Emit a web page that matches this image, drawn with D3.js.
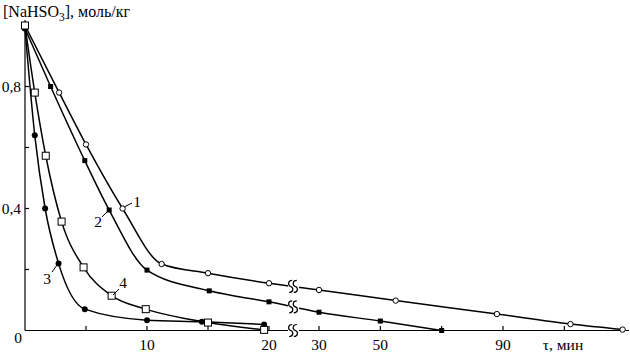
<!DOCTYPE html>
<html>
<head>
<meta charset="utf-8">
<script src="https://d3js.org/d3.v7.min.js"></script>
<style>
  body { margin: 0; background: #fff; }
  svg text { font-family: "Liberation Serif", "Times New Roman", serif; fill: #000; }
</style>
</head>
<body>
<div class="chart"></div>
<script>
// kinetics of NaHSO3 consumption, 4 runs, broken time axis

var t1 = [0, 2.8, 5, 8, 11.2, 15, 20, 30, 55, 88, 112, 129];
var c1 = [1.0, 0.78, 0.61, 0.40, 0.218, 0.188, 0.155, 0.133, 0.098, 0.054, 0.021, 0.003];

var t2 = [0, 2.1, 4.9, 6.9, 10, 15.1, 20, 30, 50, 70];
var c2 = [0.99, 0.80, 0.557, 0.395, 0.198, 0.13, 0.094, 0.06, 0.031, 0.0];

var t3 = [0, 0.8, 1.65, 2.75, 4.9, 10, 14.5, 19.6];
var c3 = [0.99, 0.64, 0.40, 0.22, 0.07, 0.034, 0.029, 0.02];

var t4 = [0, 0.8, 1.7, 3, 4.8, 7.1, 9.9, 15, 19.6];
var c4 = [1.0, 0.78, 0.573, 0.357, 0.207, 0.114, 0.07, 0.026, 0.002];

var leftTicks = [5, 10, 15, 20];
var leftLabels = [10, 20];
var rightTicks = [30, 50, 70, 90, 110];
var rightLabels = [30, 50, 90];
var yTicks = [0.2, 0.4, 0.6, 0.8];
var yLabels = [0.4, 0.8];

var opts = {
  width: 630,
  height: 354,
  breakX: 293
};

var svg = d3.select('.chart').append('svg')
            .attr('width', opts.width)
            .attr('height', opts.height);

var xL = d3.scaleLinear().domain([0, 20]).range([25, 269]);
var xR = d3.scaleLinear().domain([30, 90]).range([319, 503]);
var y = d3.scaleLinear().domain([0, 1]).range([330.5, 25.5]);

var xPos = function(t) {
  return t <= 22 ? xL(t) : xR(t);
};

var fmt = function(v) { return String(v).replace('.', ','); };

// axes
var axis = svg.append('g').attr('stroke', '#000').attr('stroke-width', 1.2);
axis.append('line').attr('x1', 25).attr('x2', 25).attr('y1', 20).attr('y2', 330.5);
axis.append('line').attr('x1', 25).attr('x2', 629).attr('y1', 330.5).attr('y2', 330.5);

axis.selectAll('line.yt').data(yTicks).enter().append('line')
  .attr('class', 'yt')
  .attr('x1', 25).attr('x2', 29)
  .attr('y1', function(d) { return y(d); })
  .attr('y2', function(d) { return y(d); });

axis.selectAll('line.xl').data(leftTicks).enter().append('line')
  .attr('class', 'xl')
  .attr('x1', function(d) { return xL(d); })
  .attr('x2', function(d) { return xL(d); })
  .attr('y1', 330.5).attr('y2', 326);

axis.selectAll('line.xr').data(rightTicks).enter().append('line')
  .attr('class', 'xr')
  .attr('x1', function(d) { return xR(d); })
  .attr('x2', function(d) { return xR(d); })
  .attr('y1', 330.5).attr('y2', 326);

svg.selectAll('text.yl').data(yLabels).enter().append('text')
  .attr('class', 'yl')
  .attr('x', 21).attr('y', function(d) { return y(d) + 5; })
  .attr('text-anchor', 'end')
  .attr('font-size', 15.5)
  .text(fmt);

svg.append('text').attr('x', 18).attr('y', 343)
  .attr('text-anchor', 'middle').attr('font-size', 15.5).text('0');

svg.selectAll('text.xll').data(leftLabels).enter().append('text')
  .attr('class', 'xll')
  .attr('x', function(d) { return xL(d); }).attr('y', 350)
  .attr('text-anchor', 'middle').attr('font-size', 15.5)
  .text(String);

svg.selectAll('text.xrl').data(rightLabels).enter().append('text')
  .attr('class', 'xrl')
  .attr('x', function(d) { return xR(d); }).attr('y', 350)
  .attr('text-anchor', 'middle').attr('font-size', 15.5)
  .text(String);

svg.append('text').attr('x', 563).attr('y', 350)
  .attr('text-anchor', 'middle').attr('font-size', 15.5).text('τ, мин');

var title = svg.append('text').attr('x', 3).attr('y', 17).attr('font-size', 16);
title.append('tspan').text('[NaHSO');
title.append('tspan').attr('font-size', 11.5).attr('dy', 4).text('3');
title.append('tspan').attr('dy', -4).text('], моль/кг');

// curves
var series = [
  { t: t1, c: c1, mark: 'ocircle' },
  { t: t2, c: c2, mark: 'fsquare' },
  { t: t3, c: c3, mark: 'fcircle' },
  { t: t4, c: c4, mark: 'osquare' }
];

var line = d3.line()
  .x(function(d) { return d[0]; })
  .y(function(d) { return d[1]; })
  .curve(d3.curveMonotoneX);

series.forEach(function(s) {
  s.pts = s.t.map(function(t, i) { return [xPos(t), y(s.c[i])]; });
  svg.append('path')
    .attr('d', line(s.pts))
    .attr('fill', 'none')
    .attr('stroke', '#000')
    .attr('stroke-width', 1.5);
});

// break gap
svg.append('rect')
  .attr('x', opts.breakX - 5).attr('y', 270)
  .attr('width', 11).attr('height', 63)
  .attr('fill', '#fff');

var squiggle = function(cx, cy) {
  [-2.3, 2.3].forEach(function(dx) {
    var x = cx + dx;
    svg.append('path')
      .attr('d', 'M' + (x + 1.5) + ',' + (cy - 6) +
                 ' C' + (x - 3) + ',' + (cy - 6) + ' ' + (x - 3) + ',' + (cy - 1) + ' ' + x + ',' + cy +
                 ' C' + (x + 3) + ',' + (cy + 1) + ' ' + (x + 3) + ',' + (cy + 6) + ' ' + (x - 1.5) + ',' + (cy + 6))
      .attr('fill', 'none')
      .attr('stroke', '#000')
      .attr('stroke-width', 1.2);
  });
};

var breakY = function(s) {
  var a = s.pts[s.t.indexOf(20)], b = s.pts[s.t.indexOf(30)];
  var k = (opts.breakX - a[0]) / (b[0] - a[0]);
  return a[1] + k * (b[1] - a[1]);
};
squiggle(opts.breakX, breakY(series[0]));
squiggle(opts.breakX, breakY(series[1]));
squiggle(opts.breakX, 330.5);

// markers
series.forEach(function(s) {
  var g = svg.append('g');
  s.pts.forEach(function(p) {
    if (s.mark === 'ocircle') {
      g.append('circle').attr('cx', p[0]).attr('cy', p[1]).attr('r', 2.7)
        .attr('fill', '#fff').attr('stroke', '#000').attr('stroke-width', 1);
    } else if (s.mark === 'fcircle') {
      g.append('circle').attr('cx', p[0]).attr('cy', p[1]).attr('r', 3)
        .attr('fill', '#000');
    } else if (s.mark === 'fsquare') {
      g.append('rect').attr('x', p[0] - 2.5).attr('y', p[1] - 2.5)
        .attr('width', 5).attr('height', 5).attr('fill', '#000');
    } else {
      g.append('rect').attr('x', p[0] - 3.5).attr('y', p[1] - 3.5)
        .attr('width', 7).attr('height', 7)
        .attr('fill', '#fff').attr('stroke', '#000').attr('stroke-width', 1);
    }
  });
});

// curve numbers with leaders
var tags = [
  { n: '1', x: 137, y: 207, lx1: 124, ly1: 207, lx2: 132, ly2: 203 },
  { n: '2', x: 98, y: 227, lx1: 102, ly1: 217, lx2: 108, ly2: 211 },
  { n: '3', x: 47, y: 284, lx1: 52, ly1: 272, lx2: 57, ly2: 265 },
  { n: '4', x: 123, y: 288, lx1: 113, ly1: 295, lx2: 119, ly2: 289 }
];

svg.selectAll('text.tag').data(tags).enter().append('text')
  .attr('class', 'tag')
  .attr('x', function(d) { return d.x; })
  .attr('y', function(d) { return d.y; })
  .attr('text-anchor', 'middle')
  .attr('font-size', 15.5)
  .text(function(d) { return d.n; });

svg.selectAll('line.lead').data(tags).enter().append('line')
  .attr('class', 'lead')
  .attr('x1', function(d) { return d.lx1; }).attr('y1', function(d) { return d.ly1; })
  .attr('x2', function(d) { return d.lx2; }).attr('y2', function(d) { return d.ly2; })
  .attr('stroke', '#000').attr('stroke-width', 1);
</script>
</body>
</html>
